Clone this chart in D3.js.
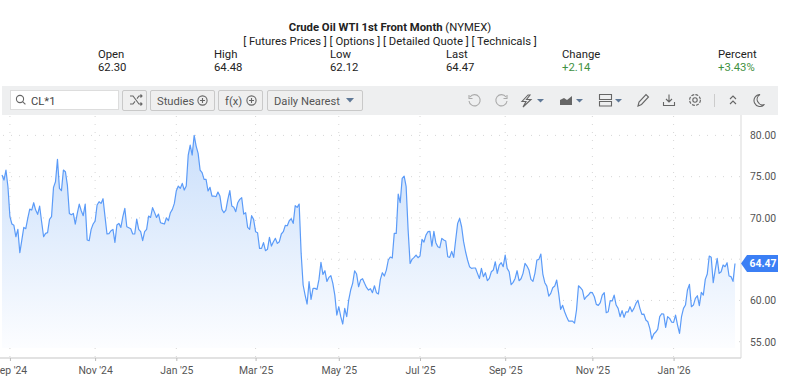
<!DOCTYPE html>
<html>
<head>
<meta charset="utf-8">
<script src="https://cdn.jsdelivr.net/npm/d3@7"></script>
<style>
  html, body { margin: 0; padding: 0; background: #fff; }
  svg { display: block; font-family: Roboto, sans-serif; }
  .head { font-size: 11.3px; fill: #222; }
  .btn { fill: #efefef; stroke: #c9c9c9; }
  .btn-label { font-size: 11.2px; fill: #555; }
  .icon { fill: none; stroke: #666; stroke-width: 1.1; }
  .icon-faint { fill: none; stroke: #aaa; stroke-width: 1.1; }
  .arrow { fill: #5f7896; }
  .axis text { font-size: 10.4px; fill: #555; font-family: Roboto, sans-serif; }
</style>
</head>
<body>
<script>
const closes = [
  75.19,74.59,75.80,73.78,70.15,69.26,69.10,67.72,68.61,65.78,67.32,68.85,68.69,69.94,71.07,70.95,71.84,70.95,70.43,71.44,
  69.54,67.72,68.13,68.21,69.82,70.15,73.70,74.39,77.09,73.58,73.30,75.80,75.60,73.98,70.55,70.39,70.55,69.26,70.55,71.68,
  70.87,70.27,71.68,67.32,67.24,68.61,69.26,69.62,71.56,71.96,71.76,72.33,70.15,68.05,68.09,68.45,68.61,67.04,69.14,69.34,
  68.85,70.15,71.15,68.93,68.81,68.69,68.05,68.05,69.86,68.61,68.33,67.24,68.33,68.61,70.23,70.06,71.24,70.67,70.06,70.47,
  69.42,69.34,69.26,70.02,69.66,70.63,71.03,71.76,73.30,73.86,73.58,74.18,73.38,73.86,77.62,78.83,77.62,80.00,78.71,77.82,
  75.80,75.48,74.67,74.67,73.26,73.70,72.65,72.65,72.57,73.13,72.65,71.03,70.63,70.95,72.25,73.30,71.44,71.28,70.75,71.84,
  72.25,72.45,70.47,70.63,68.85,68.61,70.27,69.82,68.33,68.21,66.31,66.31,67.00,66.03,66.19,67.64,66.59,67.12,67.52,66.91,
  67.12,68.05,68.33,69.10,69.05,69.66,69.90,69.34,71.48,71.28,71.68,65.70,61.87,60.65,59.56,62.27,60.13,61.46,61.46,61.34,
  62.55,64.61,63.16,63.60,62.31,62.79,63.00,62.07,60.65,58.23,59.24,58.03,57.14,59.04,58.03,60.05,61.26,62.07,63.60,63.20,
  61.66,62.47,62.63,62.07,61.58,61.26,61.42,60.94,61.78,60.94,60.78,62.55,63.36,62.96,63.68,64.90,65.26,65.14,68.13,68.13,
  72.89,71.84,74.79,75.07,73.78,68.53,64.49,64.98,65.22,65.50,65.18,65.38,67.40,67.08,67.92,68.33,68.37,66.59,68.37,67.00,
  66.51,66.39,67.52,67.32,67.20,65.30,65.22,65.95,65.22,67.32,69.34,69.94,68.93,67.12,65.90,64.90,64.09,63.89,63.93,63.93,
  63.28,62.67,63.89,62.88,63.36,62.39,62.67,63.48,63.68,64.69,63.28,64.29,64.57,64.09,65.50,63.89,63.48,61.91,62.19,62.67,
  63.60,62.39,62.63,63.28,64.49,64.17,63.68,62.55,62.31,63.28,64.90,64.98,65.62,63.20,62.15,61.74,60.53,60.86,61.54,61.74,
  62.47,60.86,58.92,59.40,58.63,58.03,57.50,57.50,57.50,57.26,58.84,61.78,61.54,61.26,60.13,60.45,60.65,60.98,60.94,60.45,
  59.52,59.40,59.73,60.65,60.94,58.51,58.63,59.97,59.93,60.65,59.44,59.04,58.03,58.76,57.95,58.63,58.59,59.24,58.63,59.04,
  59.64,60.01,59.04,58.31,58.35,57.63,57.42,56.62,55.32,55.93,56.17,56.53,58.03,58.39,58.35,56.74,58.03,57.83,57.38,57.34,
  58.23,57.02,56.01,58.03,59.04,59.44,61.26,61.95,59.24,59.44,60.25,60.57,59.36,60.98,60.65,62.55,63.20,65.38,65.22,62.15,
  63.68,65.10,63.28,63.48,64.29,64.09,64.57,62.96,62.88,62.31,64.47
];

const tickSessions = [4, 47, 88, 128, 170, 211, 254, 298, 339];
const tickLabels = ["Sep '24", "Nov '24", "Jan '25", "Mar '25", "May '25", "Jul '25", "Sep '25", "Nov '25", "Jan '26"];
const priceTicks = [55, 60, 65, 70, 75, 80];
const lastPrice = 64.47;

const quoteLabels = ["Open", "High", "Low", "Last", "Change", "Percent"];
const quoteValues = ["62.30", "64.48", "62.12", "64.47", "+2.14", "+3.43%"];
const quoteX = [98, 214, 330, 446, 562, 718];

const width = 800, height = 379;
const plot = { left: 0, right: 741, top: 115, bottom: 358 };

const svg = d3.select("body").append("svg")
  .attr("width", width)
  .attr("height", height);

//// Header
const title = svg.append("text").attr("class", "head")
  .attr("x", 390).attr("y", 31).attr("text-anchor", "middle");
title.append("tspan").attr("font-weight", 700).text("Crude Oil WTI 1st Front Month");
title.append("tspan").text(" (NYMEX)");

svg.append("text").attr("class", "head")
  .attr("x", 390).attr("y", 44.5).attr("text-anchor", "middle")
  .text("[ Futures Prices ] [ Options ] [ Detailed Quote ] [ Technicals ]");

quoteLabels.forEach((label, i) => {
  svg.append("text").attr("class", "head").attr("x", quoteX[i]).attr("y", 57.5).text(label);
  svg.append("text").attr("class", "head").attr("x", quoteX[i]).attr("y", 70.5)
    .style("fill", i > 3 ? "#3f9142" : "#222")
    .text(quoteValues[i]);
});

//// Scales
const x = d3.scaleLinear().domain([0, closes.length - 1]).range([2, 735]);
const y = d3.scaleLinear().domain([55, 80]).range([341.7, 135.4]);

//// Grid
const grid = svg.append("g")
  .attr("stroke", "#d6d6d6")
  .attr("stroke-dasharray", "1 7");
grid.selectAll(".h").data(priceTicks).join("line").attr("class", "h")
  .attr("x1", plot.left + 3).attr("x2", plot.right)
  .attr("y1", d => y(d)).attr("y2", d => y(d));
grid.selectAll(".v").data(tickSessions).join("line").attr("class", "v")
  .attr("x1", d => x(d)).attr("x2", d => x(d))
  .attr("y1", plot.top + 1).attr("y2", plot.bottom);

//// Area and line
const gradient = svg.append("defs").append("linearGradient")
  .attr("id", "fade").attr("gradientUnits", "userSpaceOnUse")
  .attr("x1", 0).attr("x2", 0).attr("y1", y(80)).attr("y2", 348);
gradient.append("stop").attr("offset", 0).attr("stop-color", "#cadffb");
gradient.append("stop").attr("offset", 1).attr("stop-color", "#fcfdff");

svg.append("path").datum(closes)
  .attr("fill", "url(#fade)")
  .attr("d", d3.area().x((d, i) => x(i)).y0(348).y1(d => y(d)));

svg.append("path").datum(closes)
  .attr("fill", "none")
  .attr("stroke", "#5b9bf8")
  .attr("stroke-width", 1.2)
  .attr("stroke-linejoin", "round")
  .attr("d", d3.line().x((d, i) => x(i)).y(d => y(d)));

//// Axes
const xAxis = svg.append("g").attr("class", "axis")
  .attr("transform", `translate(0,${plot.bottom})`)
  .call(d3.axisBottom(x).tickValues(tickSessions).tickFormat((d, i) => tickLabels[i]).tickSize(3).tickPadding(6));
xAxis.select(".domain").attr("stroke", "#d9d9d9").attr("stroke-width", 1.5).attr("d", `M0,0H${plot.right}`);
xAxis.selectAll("line").attr("stroke", "#bbb");

// the badge sits where the 65.00 label would be
const yAxis = svg.append("g").attr("class", "axis")
  .attr("transform", `translate(${plot.right},0)`)
  .call(d3.axisRight(y).tickValues(priceTicks.filter(d => d !== 65)).tickFormat(d3.format(".2f")).tickSize(0).tickPadding(9));
yAxis.select(".domain").attr("stroke", "#d9d9d9").attr("d", `M0,${plot.top}V${plot.bottom}`);

//// Last price badge
const badgeY = y(lastPrice);
svg.append("path")
  .attr("fill", "#3b7ff5")
  .attr("d", `M741,${badgeY}l6,-8.5h31v17h-31z`);
svg.append("text")
  .attr("x", 749.5).attr("y", badgeY + 3.8)
  .attr("fill", "#fff").attr("font-size", 10.4).attr("font-weight", 700)
  .text(d3.format(".2f")(lastPrice));

//// Toolbar
svg.append("rect").attr("x", 2).attr("y", 86).attr("width", 776).attr("height", 29).attr("fill", "#eeeff0");
svg.append("rect").attr("x", 10.5).attr("y", 90.5).attr("width", 108).attr("height", 19)
  .attr("fill", "#fff").attr("stroke", "#ddd");
svg.append("circle").attr("class", "icon").attr("cx", 20).attr("cy", 99).attr("r", 3.6);
svg.append("path").attr("class", "icon").attr("d", "M22.6,101.6l2.8,2.8");
svg.append("text").attr("class", "btn-label").attr("x", 31).attr("y", 104.5).style("fill", "#444").text("CL*1");

const buttons = [[122.5, 24], [150.5, 64], [218.5, 44], [267.5, 95]];
buttons.forEach(b => {
  svg.append("rect").attr("class", "btn").attr("x", b[0]).attr("y", 90.5)
    .attr("width", b[1]).attr("height", 20).attr("rx", 1.5);
});
svg.append("path").attr("class", "icon")
  .attr("d", "M130,96h3l6,8h3M130,104h3l2,-2.6M137,98.6l2,-2.6h3M140.5,94.5l1.5,1.5l-1.5,1.5M140.5,102.5l1.5,1.5l-1.5,1.5");
svg.append("text").attr("class", "btn-label").attr("x", 157).attr("y", 104.5).text("Studies");
svg.append("text").attr("class", "btn-label").attr("x", 225).attr("y", 104.5).text("f(x)");
svg.append("text").attr("class", "btn-label").attr("x", 274).attr("y", 104.5).text("Daily Nearest");
[[202.5, 100.5], [251.5, 100.5]].forEach(c => {
  svg.append("circle").attr("class", "icon").attr("cx", c[0]).attr("cy", c[1]).attr("r", 4.6);
  svg.append("path").attr("class", "icon").attr("d", `M${c[0] - 2.5},${c[1]}h5M${c[0]},${c[1] - 2.5}v5`);
});
svg.append("path").attr("class", "arrow").attr("d", "M346,98h8l-4,4.5z");

// right hand icons
svg.append("path").attr("class", "icon-faint").attr("d", "M470,97a5.6,5.6 0 1 1 -1,4M469,95v3.5h3.5");
svg.append("path").attr("class", "icon-faint").attr("d", "M506,97a5.6,5.6 0 1 0 1,4M507,95v3.5h-3.5");
svg.append("path").attr("class", "icon").attr("d", "M528,95l-6,6.5h4l-3,5.5l8,-7.5h-4.5l3.5,-4.5z");
svg.append("path").attr("class", "arrow").attr("d", "M537,99h7l-3.5,3.5z");
svg.append("path").attr("fill", "#666").attr("d", "M560,105v-5l4,-2l3,2l5,-4l0,9z");
svg.append("path").attr("class", "arrow").attr("d", "M576,99h7l-3.5,3.5z");
svg.append("path").attr("class", "icon").attr("d", "M599.5,94.5h12v5h-12zM599.5,101.5h12v4.5h-12z");
svg.append("path").attr("class", "arrow").attr("d", "M615,99h7l-3.5,3.5z");
svg.append("path").attr("class", "icon").attr("d", "M638,106l1,-4l7,-7.5l2.5,2.5l-7,7.5z");
svg.append("path").attr("class", "icon").attr("d", "M669,94.5v7M666,99l3,3l3,-3M663.5,102v3.5h11V102");
svg.append("circle").attr("class", "icon").attr("cx", 695).attr("cy", 100).attr("r", 2.2);
svg.append("circle").attr("class", "icon").attr("cx", 695).attr("cy", 100).attr("r", 5.4).attr("stroke-dasharray", "3 1.2");
svg.append("line").attr("x1", 714.5).attr("x2", 714.5).attr("y1", 94).attr("y2", 107).attr("stroke", "#ccc");
svg.append("path").attr("class", "icon").attr("d", "M730,99l3,-3l3,3M730,104l3,-3l3,3");
svg.append("path").attr("class", "icon").attr("d", "M760,94.5a6,6 0 1 0 4.5,10a5.5,5.5 0 0 1 -4.5,-10z");
</script>
</body>
</html>
